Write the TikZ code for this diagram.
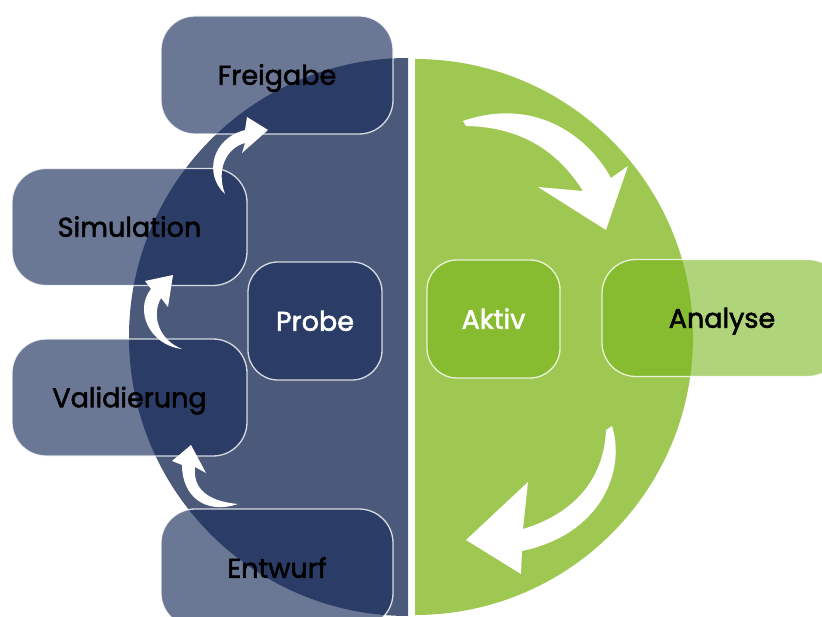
\documentclass[tikz,border=0pt]{standalone}
\usepackage{fontspec}
\setmainfont{Poppins}
\newfontfamily\labelfont{Poppins}[FakeBold=2]
\definecolor{navycirc}{RGB}{75,90,122}
\definecolor{navybox}{RGB}{26,46,92}
\definecolor{greencirc}{RGB}{159,200,82}
\definecolor{greenbox}{RGB}{119,181,26}
\tikzset{
  box/.style={rounded corners=34pt, draw=white, draw opacity=0.8, line width=1.3pt,
    fill opacity=0.65, text opacity=1, font=\labelfont\fontsize{27}{31}\selectfont,
    inner sep=0pt, text height=19.5pt, text depth=0pt},
  navyb/.style={box, fill=navybox, text=black},
  greenb/.style={box, fill=greenbox, fill opacity=0.58, text=black},
  flowarrow/.style={fill=white, draw=none}
}
\begin{document}
\begin{tikzpicture}[x=1pt,y=-1pt]
\useasboundingbox (0,0) rectangle (822,617);
% half discs
\begin{scope}
\clip (0,0) rectangle (408,617);
\fill[navycirc] (408,337) circle[radius=279pt];
\end{scope}
\begin{scope}
\clip (415,0) rectangle (822,617);
\fill[greencirc] (415,337) circle[radius=278pt];
\end{scope}
% boxes
\node[navyb, minimum width=232pt, minimum height=118pt] (frei) at (277,75) {Freigabe};
\node[navyb, minimum width=235pt, minimum height=117pt] (sim) at (129.5,227) {Simulation};
\node[navyb, minimum width=235pt, minimum height=117pt] (val) at (129.5,397.5) {Validierung};
\node[navyb, minimum width=232pt, minimum height=118pt] (entw) at (277,568) {Entwurf};
\node[navyb, rounded corners=30pt, text=white, minimum width=134pt, minimum height=118pt] (probe) at (315,321) {Probe};
\node[greenb, rounded corners=30pt, text=white, minimum width=133pt, minimum height=118pt] (aktiv) at (493.5,319) {Aktiv};
\node[greenb, minimum width=240pt, minimum height=117pt] (anal) at (722,318) {Analyse};
% arrows left
\fill[flowarrow] (238,504) .. controls (205,515) and (182,496) .. (182,465) -- (172,461) -- (191,445) -- (206,473) -- (195,467) .. controls (193,488) and (206,501) .. (238,504) -- cycle;
\fill[flowarrow] (182,349) .. controls (149,345) and (134,310) .. (151,289) -- (145,281) -- (173,275) -- (168,307) -- (161,298) .. controls (151,316) and (159,340) .. (182,349) -- cycle;
\fill[flowarrow] (225,194) .. controls (204,175) and (211,139) .. (245,130) -- (247,117) -- (268,130) -- (242,153) -- (245,143) .. controls (226,148) and (216,170) .. (225,194) -- cycle;
% arrows right
\fill[flowarrow] (463,121) .. controls (532,97) and (586,133) .. (611,178) -- (628,166) -- (606,230) -- (538,187) -- (583,191) .. controls (557,150) and (520,127) .. (466,126) -- cycle;
\fill[flowarrow] (612,426) .. controls (626,470) and (602,534) .. (522,551) -- (521,574) -- (466,540) -- (528,482) -- (523,529) .. controls (573,514) and (604,480) .. (606,430) -- cycle;
\end{tikzpicture}
\end{document}
